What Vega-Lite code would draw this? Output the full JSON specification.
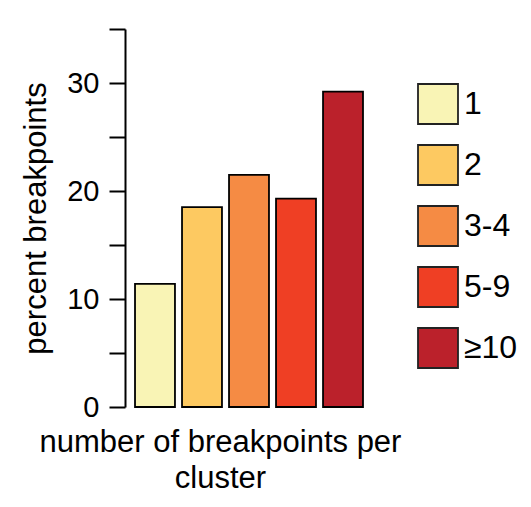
{
  "$schema": "https://vega.github.io/schema/vega-lite/v6.json",
  "width": 248,
  "height": 378,
  "autosize": "none",
  "padding": {"left": 125, "top": 29, "right": 158, "bottom": 100},
  "background": "white",
  "config": {
    "font": "Liberation Sans",
    "view": {"stroke": null}
  },
  "data": {
    "values": [
      {"cluster": "1", "percent": 11.4},
      {"cluster": "2", "percent": 18.5},
      {"cluster": "3-4", "percent": 21.5},
      {"cluster": "5-9", "percent": 19.3},
      {"cluster": "≥10", "percent": 29.2}
    ]
  },
  "mark": {"type": "bar", "stroke": "black", "strokeWidth": 1.8},
  "encoding": {
    "x": {
      "field": "cluster",
      "type": "nominal",
      "sort": null,
      "scale": {"paddingInner": 0.15, "paddingOuter": 0.213},
      "axis": {
        "title": ["number of breakpoints per", "cluster"],
        "labels": false,
        "ticks": false,
        "domain": false,
        "titleFontSize": 31,
        "titleFontWeight": "normal",
        "titleColor": "black",
        "titleLineHeight": 36,
        "titleX": 95,
        "titleAlign": "center",
        "titlePadding": 20
      }
    },
    "y": {
      "field": "percent",
      "type": "quantitative",
      "scale": {"domain": [0, 35], "nice": false},
      "axis": {
        "title": "percent breakpoints",
        "values": [0, 5, 10, 15, 20, 25, 30, 35],
        "labelExpr": "datum.value % 10 == 0 ? datum.label : ''",
        "grid": false,
        "tickSize": 16,
        "tickWidth": 2,
        "tickColor": "black",
        "domainColor": "black",
        "domainWidth": 2,
        "labelFontSize": 29,
        "labelColor": "black",
        "labelPadding": 10,
        "titleFontSize": 31,
        "titleFontWeight": "normal",
        "titleColor": "black",
        "titlePadding": 14
      }
    },
    "fill": {
      "field": "cluster",
      "type": "nominal",
      "sort": null,
      "scale": {
        "domain": ["1", "2", "3-4", "5-9", "≥10"],
        "range": ["#f9f4b5", "#fdc961", "#f58b44", "#ef3f24", "#bb212b"]
      },
      "legend": {
        "title": null,
        "orient": "none",
        "legendX": 292,
        "legendY": 54,
        "padding": 0,
        "symbolType": "square",
        "symbolSize": 1600,
        "symbolStrokeColor": "#222222",
        "symbolStrokeWidth": 1.8,
        "labelFontSize": 32,
        "labelColor": "black",
        "labelOffset": 5,
        "rowPadding": 13
      }
    }
  }
}
